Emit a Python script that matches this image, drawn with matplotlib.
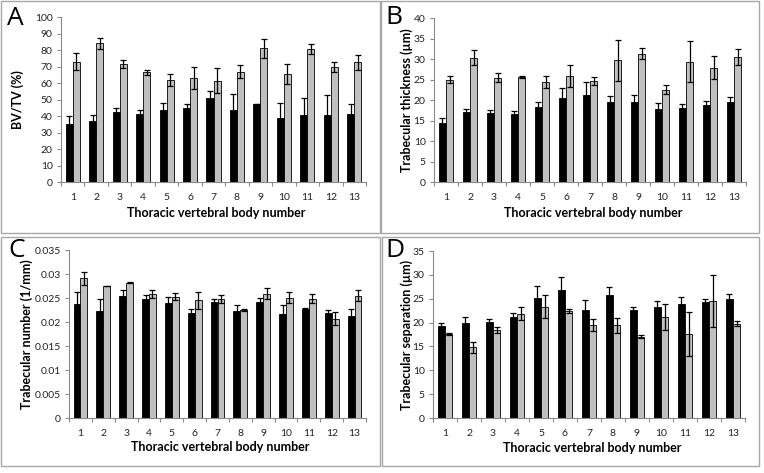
import numpy as np
import matplotlib
matplotlib.use("Agg")
import matplotlib.pyplot as plt
from matplotlib.patches import Rectangle
from matplotlib.ticker import FixedLocator, FuncFormatter

plt.rcParams['font.family'] = ['Lato', 'DejaVu Sans']

vertebrae = list(range(1, 14))
tick_labels = [str(v) for v in vertebrae]

bvtv_black = [35, 36.8, 42.5, 41, 43.5, 45, 51, 43.5, 47.5, 39, 40.5, 40.5, 41.5]
bvtv_black_err = [5, 4, 2.5, 2.5, 4.5, 2, 4, 10, 0, 9, 10.5, 12.5, 5.5]
bvtv_grey = [73, 84, 71.5, 66.5, 62, 63, 61.5, 67, 81, 65.5, 80.5, 69.5, 72.5]
bvtv_grey_err = [5, 3.5, 2.5, 1.5, 3.5, 6.5, 7.5, 4, 6, 6, 3, 3, 4.5]

tbth_black = [14.5, 17.2, 16.8, 16.7, 18.3, 20.5, 21.2, 19.4, 19.5, 17.8, 18.0, 18.7, 19.5]
tbth_black_err = [1.1, 0.6, 0.7, 0.6, 1.2, 2.5, 3.2, 1.6, 1.8, 1.5, 1.1, 1.1, 1.3]
tbth_grey = [25.0, 30.3, 25.4, 25.6, 24.4, 25.9, 24.6, 29.7, 31.3, 22.5, 29.4, 27.9, 30.5]
tbth_grey_err = [0.8, 1.8, 1.1, 0.2, 1.4, 2.6, 1.0, 5.0, 1.4, 1.1, 5.1, 2.8, 1.9]

tbn_black = [0.0237, 0.0224, 0.0255, 0.0247, 0.0240, 0.0219, 0.0241, 0.0224, 0.0242, 0.0217, 0.0227, 0.0218, 0.0212]
tbn_black_err = [0.0025, 0.0023, 0.0011, 0.0010, 0.0013, 0.0008, 0.0006, 0.0012, 0.0008, 0.0018, 0.0003, 0.0008, 0.0015]
tbn_grey = [0.0291, 0.0276, 0.0282, 0.0259, 0.0253, 0.0245, 0.0248, 0.0225, 0.0259, 0.0251, 0.0249, 0.0207, 0.0255]
tbn_grey_err = [0.0013, 0.0, 0.0001, 0.0008, 0.0008, 0.0017, 0.0008, 0.0002, 0.0012, 0.0011, 0.0009, 0.0014, 0.0012]

tbsp_black = [19.2, 19.9, 20.1, 21.2, 25.1, 26.9, 22.6, 25.8, 22.7, 23.2, 23.9, 24.4, 24.9]
tbsp_black_err = [0.8, 1.3, 0.6, 0.8, 2.5, 2.6, 2.1, 1.6, 0.6, 1.3, 1.4, 0.6, 1.0]
tbsp_grey = [17.6, 14.8, 18.4, 21.9, 23.3, 22.4, 19.5, 19.4, 17.0, 21.2, 17.6, 24.5, 19.8]
tbsp_grey_err = [0.2, 1.1, 0.6, 1.3, 2.4, 0.4, 1.2, 1.5, 0.3, 2.8, 4.7, 5.4, 0.5]

W, H = 764, 473
fig = plt.figure(figsize=(W / 100, H / 100), dpi=100)

def px_axes(l, r, t, b):
    return [l / W, 1 - b / H, (r - l) / W, (b - t) / H]

panels = [
    dict(letter="A", box=(1, 1, 380, 233), ax=(61, 366, 17, 182), letter_xy=(7, 6),
         black=bvtv_black, berr=bvtv_black_err, grey=bvtv_grey, gerr=bvtv_grey_err,
         ytop=100, yticks=[0, 10, 20, 30, 40, 50, 60, 70, 80, 90, 100],
         ylabel="BV/TV (%)", ylc=-0.141, xlc=-0.188),
    dict(letter="B", box=(381, 1, 759, 233), ax=(434, 746, 18, 182), letter_xy=(385, 5),
         black=tbth_black, berr=tbth_black_err, grey=tbth_grey, gerr=tbth_grey_err,
         ytop=40, yticks=[0, 5, 10, 15, 20, 25, 30, 35, 40],
         ylabel="Trabecular thickness (µm)", ylc=-0.088, xlc=-0.189),
    dict(letter="C", box=(1, 237, 380, 466), ax=(69, 366, 250, 418), letter_xy=(8, 238),
         black=tbn_black, berr=tbn_black_err, grey=tbn_grey, gerr=tbn_grey_err,
         ytop=0.035, yticks=[0, 0.005, 0.01, 0.015, 0.02, 0.025, 0.03, 0.035],
         ylabel="Trabecular number (1/mm)", ylc=-0.142, xlc=-0.173),
    dict(letter="D", box=(382, 237, 759, 466), ax=(433, 745, 251, 418), letter_xy=(385, 238),
         black=tbsp_black, berr=tbsp_black_err, grey=tbsp_grey, gerr=tbsp_grey_err,
         ytop=35, yticks=[0, 5, 10, 15, 20, 25, 30, 35],
         ylabel="Trabecular separation (µm)", ylc=-0.085, xlc=-0.179),
]

axis_col = "#8a8a8a"
x = np.array(vertebrae, dtype=float)
bw = 0.3

for p in panels:
    x0, y0, x1, y1 = p["box"]
    fig.add_artist(Rectangle((x0 / W, 1 - y1 / H), (x1 - x0) / W, (y1 - y0) / H,
                             transform=fig.transFigure, fill=False,
                             edgecolor="#a8a8a8", linewidth=1.0))
    ax = fig.add_axes(px_axes(*p["ax"]))
    ekw = dict(ecolor="black", elinewidth=0.9, capsize=2.3, capthick=0.9)
    ax.bar(x - bw / 2, p["black"], width=bw, color="black", edgecolor="black",
           linewidth=0.6, yerr=p["berr"], error_kw=ekw, zorder=2)
    ax.bar(x + bw / 2, p["grey"], width=bw, color="#c0c0c0", edgecolor="black",
           linewidth=0.6, yerr=p["gerr"], error_kw=ekw, zorder=2)
    ax.set_xlim(0.5, 13.5)
    ax.set_ylim(0, p["ytop"] * 1.0005)
    ax.yaxis.set_major_locator(FixedLocator(p["yticks"]))
    ax.yaxis.set_major_formatter(FuncFormatter(lambda v, pos: "%g" % round(v, 4)))
    ax.set_xticks(x)
    ax.set_xticklabels(tick_labels)
    ax.xaxis.set_minor_locator(FixedLocator(np.arange(0.5, 14, 1.0)))
    ax.tick_params(axis="x", which="major", length=0, labelsize=7.5, pad=8, colors="#222222")
    ax.tick_params(axis="x", which="minor", length=3, width=0.8, color=axis_col, direction="out")
    ax.tick_params(axis="y", which="major", length=3, width=0.8, color=axis_col,
                   labelsize=7.5, pad=3, labelcolor="#222222", direction="out")
    for s in ("top", "right"):
        ax.spines[s].set_visible(False)
    for s in ("left", "bottom"):
        ax.spines[s].set_color(axis_col)
        ax.spines[s].set_linewidth(0.8)
    ax.set_ylabel(p["ylabel"], fontsize=9, fontweight="bold")
    ax.yaxis.set_label_coords(p["ylc"], 0.5)
    ax.set_xlabel("Thoracic vertebral body number", fontsize=9, fontweight="bold")
    ax.xaxis.set_label_coords(0.51, p["xlc"])
    ax.xaxis.label.set_va("center")
    ax.yaxis.label.set_va("center")
    lx, ly = p["letter_xy"]
    fig.text(lx / W, 1 - ly / H, p["letter"], fontsize=19, va="top", ha="left",
             family=["Open Sans", "DejaVu Sans"])

fig.savefig("out.png", dpi=100)
